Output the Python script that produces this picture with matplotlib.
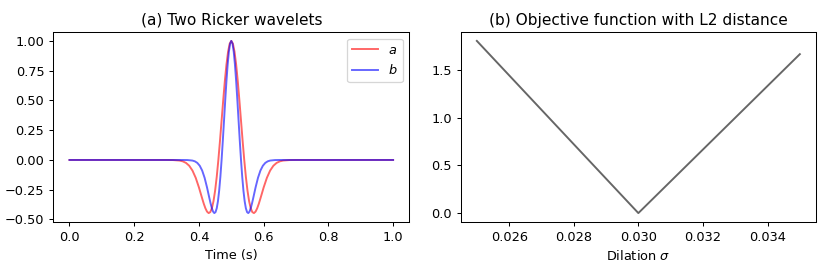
import matplotlib
matplotlib.use("Agg")
import matplotlib.pyplot as plt

# Wavelet a
t_a = [0.0, 0.30, 0.32, 0.34, 0.35, 0.36, 0.37, 0.38, 0.39, 0.40, 0.41, 0.415, 0.42, 0.425,
       0.43, 0.435, 0.44, 0.445, 0.45, 0.455, 0.46, 0.465, 0.47, 0.475, 0.48, 0.485, 0.49,
       0.495, 0.50,
       0.505, 0.51, 0.515, 0.52, 0.525, 0.53, 0.535, 0.54, 0.545, 0.55, 0.555, 0.56, 0.565,
       0.57, 0.575, 0.58, 0.585, 0.59, 0.60, 0.61, 0.62, 0.63, 0.64, 0.65, 0.66, 0.68, 0.70, 1.0]
v_a = [0.0, -0.0001, -0.0008, -0.0050, -0.0115, -0.0246, -0.0486, -0.0889, -0.1496, -0.2307,
       -0.3233, -0.3677, -0.4060, -0.4338, -0.4462, -0.4381, -0.4058, -0.3461, -0.2575, -0.1411,
       0.0, 0.1598, 0.3302, 0.5013, 0.6619, 0.8010, 0.9086, 0.9767, 1.0,
       0.9767, 0.9086, 0.8010, 0.6619, 0.5013, 0.3302, 0.1598, 0.0, -0.1411, -0.2575, -0.3461,
       -0.4058, -0.4381, -0.4462, -0.4338, -0.4060, -0.3677, -0.3233, -0.2307, -0.1496, -0.0889,
       -0.0486, -0.0246, -0.0115, -0.0050, -0.0008, -0.0001, 0.0]

# Wavelet b
t_b = [0.0, 0.35, 0.365, 0.38, 0.3875, 0.395, 0.4025, 0.41, 0.4175, 0.425, 0.4325, 0.43625,
       0.44, 0.44375, 0.4475, 0.45125, 0.455, 0.45875, 0.4625, 0.46625, 0.47, 0.47375, 0.4775,
       0.48125, 0.485, 0.48875, 0.4925, 0.49625, 0.5,
       0.50375, 0.5075, 0.51125, 0.515, 0.51875, 0.5225, 0.52625, 0.53, 0.53375, 0.5375,
       0.54125, 0.545, 0.54875, 0.5525, 0.55625, 0.56, 0.56375, 0.5675, 0.575, 0.5825, 0.59,
       0.5975, 0.605, 0.6125, 0.62, 0.635, 0.65, 1.0]
v_b = [0.0, -0.0001, -0.0008, -0.0050, -0.0115, -0.0246, -0.0486, -0.0889, -0.1496, -0.2307,
       -0.3233, -0.3677, -0.4060, -0.4338, -0.4462, -0.4381, -0.4058, -0.3461, -0.2575, -0.1411,
       0.0, 0.1598, 0.3302, 0.5013, 0.6619, 0.8010, 0.9086, 0.9767, 1.0,
       0.9767, 0.9086, 0.8010, 0.6619, 0.5013, 0.3302, 0.1598, 0.0, -0.1411, -0.2575, -0.3461,
       -0.4058, -0.4381, -0.4462, -0.4338, -0.4060, -0.3677, -0.3233, -0.2307, -0.1496, -0.0889,
       -0.0486, -0.0246, -0.0115, -0.0050, -0.0008, -0.0001, 0.0]

# Objective function
sigma = [0.025, 0.030, 0.035]
objective = [1.808, 0.0, 1.669]

DPI = 92.25
fig = plt.figure(figsize=(830 / DPI, 277 / DPI), dpi=DPI)
ax1 = fig.add_axes([53.3/830, (277-221.7)/277, 356/830, 189.4/277])
ax2 = fig.add_axes([460.7/830, (277-221.7)/277, 355.3/830, 189.4/277])

ax1.plot(t_a, v_a, color='r', alpha=0.6, lw=1.5, label='$a$')
ax1.plot(t_b, v_b, color='b', alpha=0.6, lw=1.5, label='$b$')
ax1.set_title('(a) Two Ricker wavelets')
ax1.set_xlabel('Time (s)')
ax1.set_yticks([-0.5, -0.25, 0.0, 0.25, 0.5, 0.75, 1.0])
ax1.legend(loc='upper right')

ax2.plot(sigma, objective, color='k', alpha=0.6, lw=1.5)
ax2.set_title('(b) Objective function with L2 distance')
ax2.set_xlabel('Dilation $\\sigma$')
ax2.set_xticks([0.026, 0.028, 0.030, 0.032, 0.034])
ax2.set_yticks([0.0, 0.5, 1.0, 1.5])

fig.savefig('out.png', dpi=DPI)
